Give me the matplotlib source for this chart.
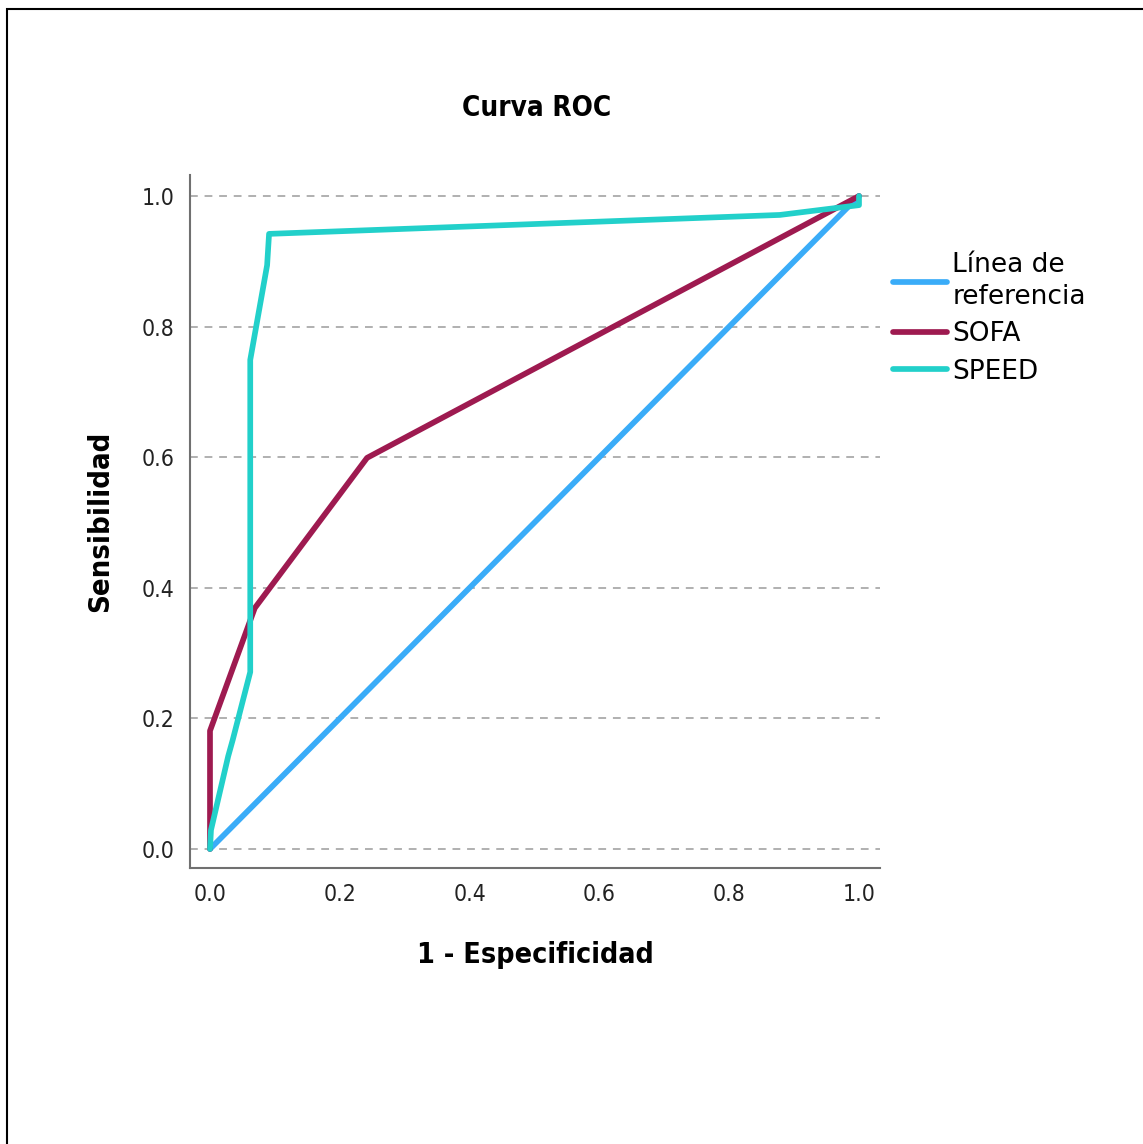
import matplotlib
matplotlib.use("Agg")
import matplotlib.pyplot as plt
from matplotlib.patches import Rectangle

# Data
ref_x = [0.0, 1.0]
ref_y = [0.0, 1.0]
sofa_x = [0.0, 0.0, 0.0, 0.069, 0.242, 1.0]
sofa_y = [0.0, 0.03, 0.181, 0.369, 0.599, 1.0]
speed_x = [0.0, 0.0015, 0.028, 0.035, 0.062, 0.062, 0.088, 0.091, 0.878, 1.0, 1.0]
speed_y = [0.0, 0.029, 0.142, 0.167, 0.271, 0.749, 0.894, 0.942, 0.971, 0.986, 1.0]
ticks = [0.0, 0.2, 0.4, 0.6, 0.8, 1.0]
tick_labels = ["0.0", "0.2", "0.4", "0.6", "0.8", "1.0"]
labels = ["Línea de\nreferencia", "SOFA", "SPEED"]
colors = ["#3AACF8", "#9E1A50", "#22D0CA"]

narrow_prop = dict(family=["DejaVu Sans"], stretch="condensed")

W, H = 1143, 1144
fig = plt.figure(figsize=(W / 100, H / 100), dpi=100)
fig.patch.set_facecolor("white")

# outer frame
fig.patches.append(Rectangle((7 / W, -0.01), 1.02, 1 - 9 / H + 0.01, transform=fig.transFigure,
                             fill=False, edgecolor="black", linewidth=1.5))

ax = fig.add_axes([190 / W, 1 - 868 / H, (880 - 190) / W, (868 - 175) / H])
ax.set_xlim(-20 / 649, (880 - 210) / 649)
ax.set_ylim(-(868 - 849) / 653, (849 - 175) / 653)

for t in ticks:
    ax.axhline(t, color="#b0b0b0", linestyle=(0, (4, 3.5)), linewidth=1.4, zorder=1)

lw = 4.1
ax.plot(ref_x, ref_y, color=colors[0], lw=lw, label=labels[0], zorder=3, solid_capstyle="round")
ax.plot(sofa_x, sofa_y, color=colors[1], lw=lw, label=labels[1], zorder=4, solid_capstyle="round")
ax.plot(speed_x, speed_y, color=colors[2], lw=lw, label=labels[2], zorder=5, solid_capstyle="round")

for s in ["top", "right"]:
    ax.spines[s].set_visible(False)
for s in ["left", "bottom"]:
    ax.spines[s].set_color("#707070")
    ax.spines[s].set_linewidth(1.5)

ax.set_xticks(ticks)
ax.set_xticklabels(tick_labels, fontsize=16.5, color="#222222", **narrow_prop)
ax.set_yticks(ticks)
ax.set_yticklabels(tick_labels, fontsize=16.5, color="#222222", **narrow_prop)
ax.tick_params(length=0, pad=11)

ax.set_xlabel("1 - Especificidad", fontsize=20.5, fontweight="bold", labelpad=25, **narrow_prop)
ax.set_ylabel("Sensibilidad", fontsize=21, fontweight="bold", labelpad=20, **narrow_prop)
fig.text(537 / W, 1 - 108 / H, "Curva ROC", fontsize=20, fontweight="bold",
         ha="center", va="center", **narrow_prop)

leg = ax.legend(loc="upper left", bbox_to_anchor=(0.992, 0.915), frameon=False,
                handlelength=2.05, handletextpad=0.2, labelspacing=0.42, borderaxespad=0.3,
                prop={"family": ["DejaVu Sans"], "size": 19})
for t in leg.get_texts():
    t.set_linespacing(1.3)

fig.savefig("out.png", dpi=100)
